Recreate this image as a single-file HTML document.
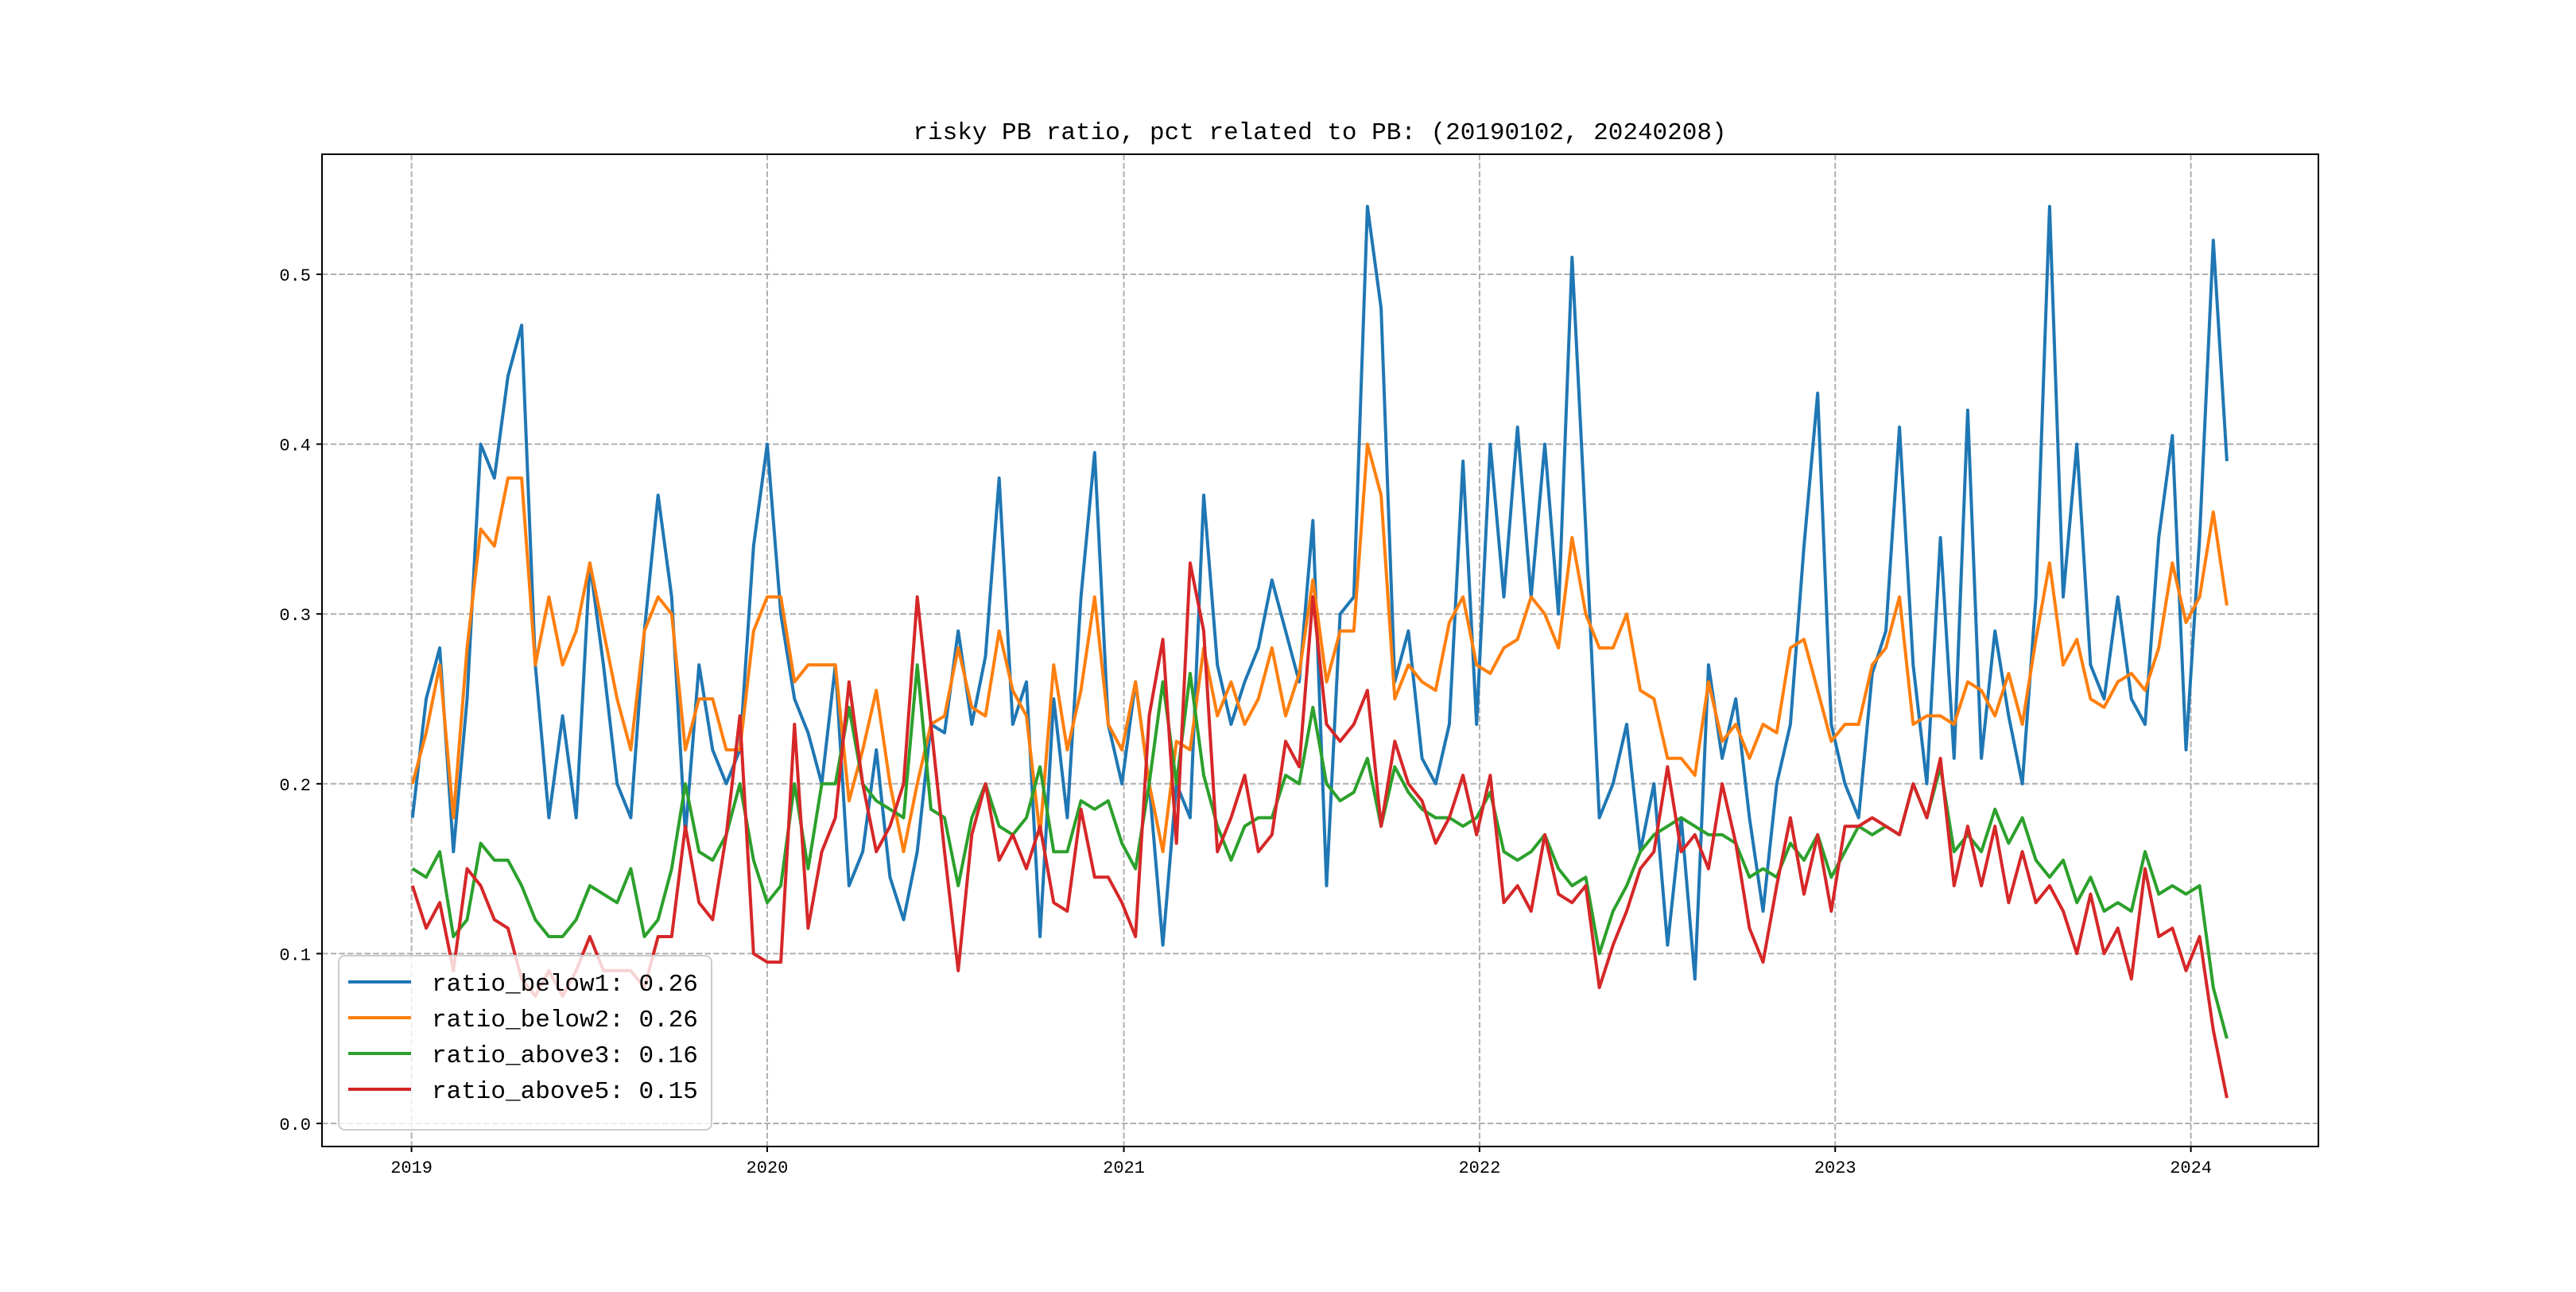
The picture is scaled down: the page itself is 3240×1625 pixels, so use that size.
<!DOCTYPE html>
<html><head><meta charset="utf-8"><style>
html,body{margin:0;padding:0;background:#fff;}
svg text{font-family:"Liberation Mono","Noto Sans CJK SC",monospace;}
</style></head><body>
<svg id="chart" width="3240" height="1620" viewBox="0 0 3240 1620" xmlns="http://www.w3.org/2000/svg">
<rect width="3240" height="1620" fill="#fff"/>
<text x="1660" y="175" font-size="31" text-anchor="middle" fill="#000">risky PB ratio, pct related to PB: (20190102, 20240208)</text>
<g id="grid"></g>
<g id="plot"></g>
<rect x="405" y="194" width="2511" height="1248" fill="none" stroke="#000" stroke-width="2"/>
<g id="ticks"></g>
<g id="legend"></g>
</svg>
<script>
const startDate = "2019-01-02";
const stepDays = 14;
const yearTicks = ["2019","2020","2021","2022","2023","2024"];
const yTicks = [0.0,0.1,0.2,0.3,0.4,0.5];
const yTickLabels = ["0.0","0.1","0.2","0.3","0.4","0.5"];
const seriesNames = ["ratio_below1: 0.26","ratio_below2: 0.26","ratio_above3: 0.16","ratio_above5: 0.15"];
const below1 = [0.18,0.25,0.28,0.16,0.25,0.40,0.38,0.44,0.47,0.27,0.18,0.24,0.18,0.33,0.27,0.20,0.18,0.29,0.37,0.31,0.17,0.27,0.22,0.20,0.22,0.34,0.40,0.30,0.25,0.23,0.20,
0.27,0.14,0.16,0.22,0.145,0.12,0.16,0.235,0.23,0.29,0.235,0.275,0.38,0.235,0.26,0.11,0.25,0.18,0.31,0.395,0.235,0.20,0.26,0.20,0.105,0.20,0.18,0.37,0.27,0.235,0.26,0.28,0.32,0.29,0.26,0.355,0.14,
0.30,0.31,0.54,0.48,0.26,0.29,0.215,0.20,0.235,0.39,0.235,0.40,0.31,0.41,0.31,0.40,0.30,0.51,0.35,0.18,0.20,0.235,0.16,0.20,0.105,0.18,0.085,0.27,0.215,0.25,0.18,0.125,0.20,0.235,0.34,0.43,
0.235,0.20,0.18,0.265,0.29,0.41,0.27,0.20,0.345,0.215,0.42,0.215,0.29,0.24,0.20,0.31,0.54,0.31,0.40,0.27,0.25,0.31,0.25,0.235,0.345,0.405,0.22,0.345,0.52,0.39];
const below2 = [0.20,0.23,0.27,0.18,0.28,0.35,0.34,0.38,0.38,0.27,0.31,0.27,0.29,0.33,0.29,0.25,0.22,0.29,0.31,0.30,0.22,0.25,0.25,0.22,0.22,0.29,0.31,0.31,0.26,0.27,0.27,
0.27,0.19,0.22,0.255,0.20,0.16,0.20,0.235,0.24,0.28,0.245,0.24,0.29,0.255,0.24,0.17,0.27,0.22,0.255,0.31,0.235,0.22,0.26,0.20,0.16,0.225,0.22,0.28,0.24,0.26,0.235,0.25,0.28,0.24,0.265,0.32,0.26,
0.29,0.29,0.40,0.37,0.25,0.27,0.26,0.255,0.295,0.31,0.27,0.265,0.28,0.285,0.31,0.30,0.28,0.345,0.30,0.28,0.28,0.30,0.255,0.25,0.215,0.215,0.205,0.26,0.225,0.235,0.215,0.235,0.23,0.28,0.285,0.255,
0.225,0.235,0.235,0.27,0.28,0.31,0.235,0.24,0.24,0.235,0.26,0.255,0.24,0.265,0.235,0.285,0.33,0.27,0.285,0.25,0.245,0.26,0.265,0.255,0.28,0.33,0.295,0.31,0.36,0.305];
const above3 = [0.15,0.145,0.16,0.11,0.12,0.165,0.155,0.155,0.14,0.12,0.11,0.11,0.12,0.14,0.135,0.13,0.15,0.11,0.12,0.15,0.20,0.16,0.155,0.17,0.20,0.155,0.13,0.14,0.20,0.15,0.20,
0.20,0.245,0.20,0.19,0.185,0.18,0.27,0.185,0.18,0.14,0.18,0.20,0.175,0.17,0.18,0.21,0.16,0.16,0.19,0.185,0.19,0.165,0.15,0.20,0.26,0.20,0.265,0.205,0.175,0.155,0.175,0.18,0.18,0.205,0.20,0.245,0.20,
0.19,0.195,0.215,0.175,0.21,0.195,0.185,0.18,0.18,0.175,0.18,0.195,0.16,0.155,0.16,0.17,0.15,0.14,0.145,0.10,0.125,0.14,0.16,0.17,0.175,0.18,0.175,0.17,0.17,0.165,0.145,0.15,0.145,0.165,0.155,0.17,
0.145,0.16,0.175,0.17,0.175,0.17,0.20,0.18,0.21,0.16,0.17,0.16,0.185,0.165,0.18,0.155,0.145,0.155,0.13,0.145,0.125,0.13,0.125,0.16,0.135,0.14,0.135,0.14,0.08,0.05];
const above5 = [0.14,0.115,0.13,0.09,0.15,0.14,0.12,0.115,0.085,0.075,0.09,0.075,0.09,0.11,0.09,0.09,0.09,0.08,0.11,0.11,0.175,0.13,0.12,0.17,0.24,0.10,0.095,0.095,0.235,0.115,0.16,
0.18,0.26,0.20,0.16,0.175,0.20,0.31,0.235,0.16,0.09,0.17,0.20,0.155,0.17,0.15,0.175,0.13,0.125,0.185,0.145,0.145,0.13,0.11,0.24,0.285,0.165,0.33,0.29,0.16,0.18,0.205,0.16,0.17,0.225,0.21,0.31,0.235,
0.225,0.235,0.255,0.175,0.225,0.20,0.19,0.165,0.18,0.205,0.17,0.205,0.13,0.14,0.125,0.17,0.135,0.13,0.14,0.08,0.105,0.125,0.15,0.16,0.21,0.16,0.17,0.15,0.20,0.165,0.115,0.095,0.14,0.18,0.135,0.17,
0.125,0.175,0.175,0.18,0.175,0.17,0.20,0.18,0.215,0.14,0.175,0.14,0.175,0.13,0.16,0.13,0.14,0.125,0.10,0.135,0.10,0.115,0.085,0.15,0.11,0.115,0.09,0.11,0.055,0.015];
const seriesData = [below1, below2, above3, above5];
const colors = ["#1f77b4","#ff7f0e","#2ca02c","#d62728"];
const seriesKeys = ["below1","below2","above3","above5"];

const NS = "http://www.w3.org/2000/svg";
const X0 = 405, X1 = 2916, Y0 = 194, Y1 = 1442;
const t2019 = Date.UTC(2019,0,1), t2024 = Date.UTC(2024,0,1);
function xScale(ms){ return 517.6 + (ms - t2019) / (t2024 - t2019) * (2755.6 - 517.6); }
function yScale(v){ return 1413 - v * 2136; }
function mk(tag, attrs){ const e = document.createElementNS(NS, tag); for (const k in attrs) e.setAttribute(k, attrs[k]); return e; }
const s0 = Date.parse(startDate + "T00:00:00Z");
function dateAt(i){ return s0 + i * stepDays * 86400000; }

const grid = document.getElementById("grid");
const ticks = document.getElementById("ticks");
yTicks.forEach((v, i) => {
  const y = yScale(v);
  const g = mk("line", {x1:X0, x2:X1, y1:y, y2:y, stroke:"#b0b0b0", "stroke-width":2, "stroke-dasharray":"7.5,3.2"});
  
  
  grid.appendChild(g);
  const tk = mk("line", {x1:X0-7, x2:X0, y1:y, y2:y, stroke:"#000", "stroke-width":2});
  
  
  ticks.appendChild(tk);
  const t = mk("text", {x:X0-14, y:y+8, "font-size":22, "text-anchor":"end", fill:"#000"});
  t.textContent = yTickLabels[i];
  
  
  ticks.appendChild(t);
});
yearTicks.forEach(yr => {
  const x = xScale(Date.UTC(+yr,0,1));
  const g = mk("line", {x1:x, x2:x, y1:Y0, y2:Y1, stroke:"#b0b0b0", "stroke-width":2, "stroke-dasharray":"7.5,3.2"});
  
  
  grid.appendChild(g);
  const tk = mk("line", {x1:x, x2:x, y1:Y1, y2:Y1+7, stroke:"#000", "stroke-width":2});
  
  
  ticks.appendChild(tk);
  const t = mk("text", {x:x, y:Y1+33, "font-size":22, "text-anchor":"middle", fill:"#000"});
  t.textContent = yr;
  
  
  ticks.appendChild(t);
});

const plot = document.getElementById("plot");
seriesData.forEach((arr, si) => {
  const pts = arr.map((v, i) => xScale(dateAt(i)).toFixed(1) + "," + yScale(v).toFixed(1)).join(" ");
  const pl = mk("polyline", {points:pts, fill:"none", stroke:colors[si], "stroke-width":4, "stroke-linejoin":"round"});
  
  
  plot.appendChild(pl);
});

const legend = document.getElementById("legend");
const box = mk("rect", {x:426, y:1202, width:469, height:219, rx:8, fill:"#fff", "fill-opacity":0.8, stroke:"#cccccc", "stroke-width":2});


legend.appendChild(box);
seriesNames.forEach((nm, i) => {
  const y = 1235 + i * 45;
  const ln = mk("line", {x1:438, x2:517, y1:y, y2:y, stroke:colors[i], "stroke-width":4});
  
  
  legend.appendChild(ln);
  const t = mk("text", {x:543, y:y+11, "font-size":31, fill:"#000"});
  t.textContent = nm;
  
  
  legend.appendChild(t);
});
</script>
</body></html>
